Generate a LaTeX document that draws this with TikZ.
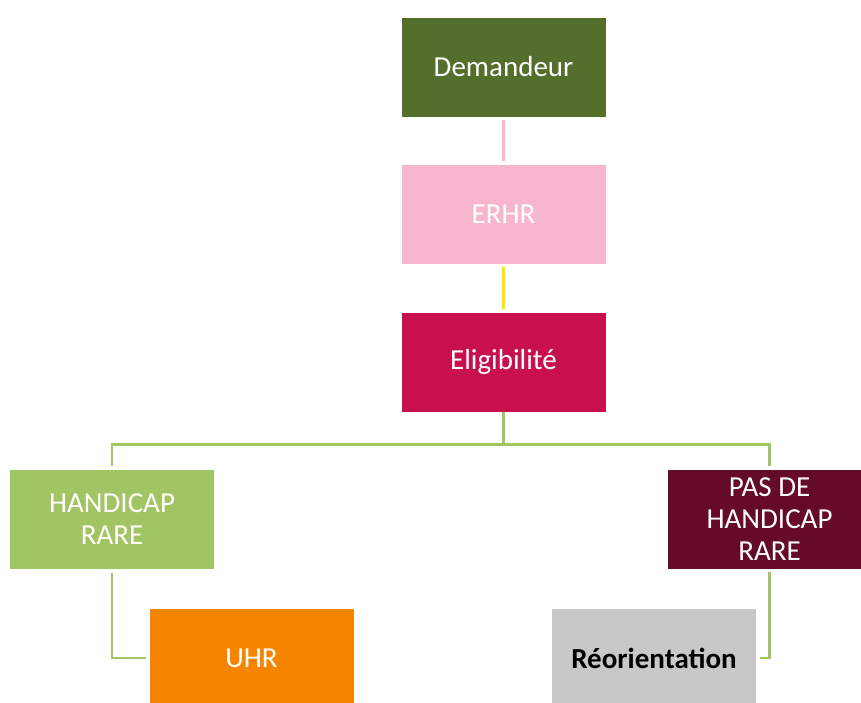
\documentclass[tikz,border=0pt]{standalone}
\usepackage{fontspec}
\setmainfont{Carlito}
\usepackage{tikz}

\definecolor{olivebox}{RGB}{84,110,44}
\definecolor{pinkbox}{RGB}{248,182,206}
\definecolor{crimsonbox}{RGB}{200,16,78}
\definecolor{greenbox}{RGB}{162,197,99}
\definecolor{maroonbox}{RGB}{101,10,40}
\definecolor{orangebox}{RGB}{245,133,0}
\definecolor{greybox}{RGB}{200,200,200}
\definecolor{yellowline}{RGB}{255,230,0}

\tikzset{
  box/.style={rectangle, draw=white, line width=0.6pt, minimum width=205pt, minimum height=100pt,
    align=center, text=white, font=\fontsize{29}{32}\selectfont},
  link/.style={line width=2.6pt, shorten <=3pt, shorten >=3pt},
}

\begin{document}
\begin{tikzpicture}[x=1pt, y=-1pt]
  \useasboundingbox (0,0) rectangle (861,702);

  \node[box, fill=olivebox] (dem) at (503.5,67) {Demandeur};
  \node[box, fill=pinkbox] (erhr) at (503.5,214) {ERHR};
  \node[box, fill=crimsonbox] (elig) at (503.5,362) {Eligibilité};
  \node[box, fill=greenbox] (hr) at (112,519.5) {HANDICAP\\RARE};
  \node[box, fill=maroonbox] (pas) at (769.5,519) {PAS DE\\HANDICAP\\RARE};
  \node[box, fill=orangebox] (uhr) at (251.5,658) {UHR};
  \node[box, fill=greybox, text=black] (reo) at (654,658) {\textbf{Réorientation}};

  \draw[link, pinkbox] (dem.south) -- (erhr.north);
  \draw[link, yellowline] (erhr.south) -- (elig.north);
  \draw[link, greenbox, shorten <=0pt] (elig.south) -- ++(0,32) -| (hr.north);
  \draw[link, greenbox, shorten <=0pt] (elig.south) -- ++(0,32) -| (pas.north);
  \draw[link, greenbox] (hr.south) |- (uhr.west);
  \draw[link, greenbox] (pas.south) |- (reo.east);
\end{tikzpicture}
\end{document}
